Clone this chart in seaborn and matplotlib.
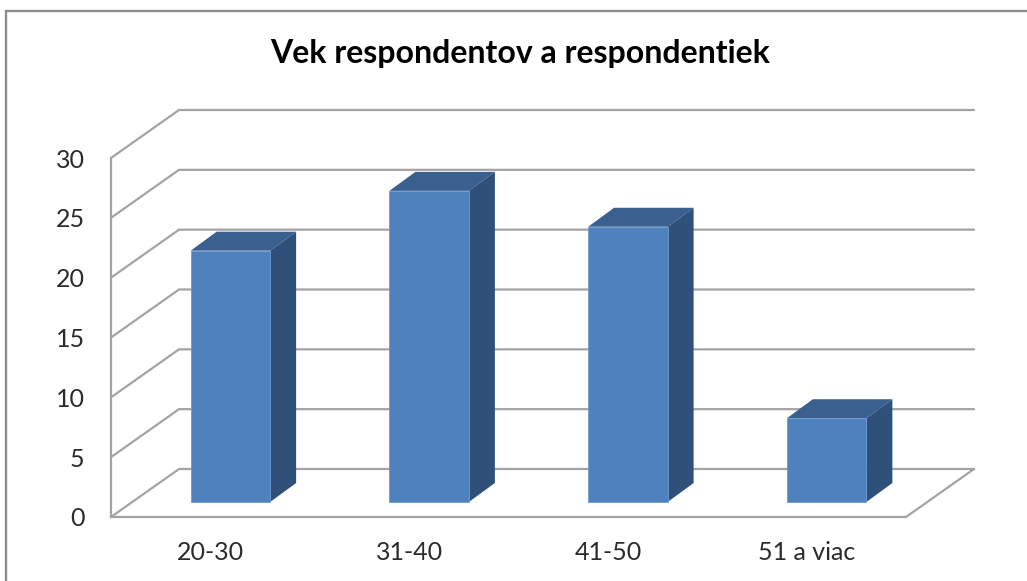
import matplotlib
matplotlib.use("Agg")
import matplotlib.pyplot as plt
from matplotlib.lines import Line2D
import pandas as pd
import seaborn as sns

categories = ["20-30", "31-40", "41-50", "51 a viac"]
values = [21, 26, 23, 7]
y_ticks = [0, 5, 10, 15, 20, 25, 30]
title = "Vek respondentov a respondentiek"

W, H = 1027, 581
sns.set_theme(style="white")
plt.rcParams["font.family"] = ["Lato", "DejaVu Sans"]

fig = plt.figure(figsize=(W / 100, H / 100), dpi=100, facecolor="white")
L, R, T, B = 111, 906, 158, 517
ax = fig.add_axes([L / W, 1 - B / H, (R - L) / W, (B - T) / H])

df = pd.DataFrame({"age": categories, "count": values})
sns.barplot(data=df, x="age", y="count", color="#4F81BD", saturation=1,
            width=0.4, ax=ax, zorder=5)
ax.set_xlim(-0.5, 3.5)
ax.set_ylim(0, 30)

# pixel -> data unit conversions for the oblique depth
px_x = 4 / (R - L)
px_y = 30 / (B - T)
GRID = "#A3A3A3"
wall_dx, wall_dy = 68 * px_x, 48 * px_y
x0, x1 = ax.get_xlim()

for t in y_ticks:
    ax.plot([x0, x0 + wall_dx, x1 + wall_dx], [t, t + wall_dy, t + wall_dy],
            color=GRID, lw=1.6, clip_on=False, zorder=1,
            solid_joinstyle="miter")
ax.plot([x1, x1 + wall_dx], [0, wall_dy], color=GRID, lw=1.6, clip_on=False, zorder=1)

# move bars into the middle of the floor and add the oblique faces
off_dx, off_dy = 20 * px_x, 15 * px_y
bar_dx, bar_dy = 26 * px_x, 19 * px_y
for p in ax.patches[:len(values)]:
    p.set_x(p.get_x() + off_dx)
    p.set_y(p.get_y() + off_dy)
    p.set_clip_on(False)
    p.set_edgecolor("#6E9AD0")
    p.set_linewidth(0.6)
    xa, xb = p.get_x(), p.get_x() + p.get_width()
    ya, yb = p.get_y(), p.get_y() + p.get_height()
    ax.fill([xa, xb, xb + bar_dx, xa + bar_dx],
            [yb, yb, yb + bar_dy, yb + bar_dy],
            color="#3A6090", lw=0, clip_on=False, zorder=4)
    ax.fill([xb, xb + bar_dx, xb + bar_dx, xb],
            [ya, ya + bar_dy, yb + bar_dy, yb],
            color="#2F5078", lw=0, clip_on=False, zorder=4)

ax.set_xlabel("")
ax.set_ylabel("")
ax.set_yticks(y_ticks)
ax.set_xticks(range(len(categories)))
ax.set_xticklabels(categories)
ax.tick_params(axis="y", length=0, pad=19, labelsize=18, labelcolor="#2B2B2B")
ax.tick_params(axis="x", length=0, pad=17, labelsize=18, labelcolor="#2B2B2B")
ax.patch.set_alpha(0)
for s in ("top", "right"):
    ax.spines[s].set_visible(False)
for s in ("left", "bottom"):
    ax.spines[s].set_color(GRID)
    ax.spines[s].set_linewidth(1.6)
    ax.spines[s].set_zorder(2)

fig.text(520.5 / W, 1 - 53 / H, title, ha="center", va="center",
         fontsize=23, fontweight="bold", color="black")

# chart frame
FRAME = "#8C8C8C"
fig.add_artist(Line2D([6 / W, 6 / W, 1], [0, 1 - 10.5 / H, 1 - 10.5 / H],
                      transform=fig.transFigure, color=FRAME, lw=1.7,
                      solid_joinstyle="miter"))

fig.savefig("out.png", dpi=100, facecolor="white")
